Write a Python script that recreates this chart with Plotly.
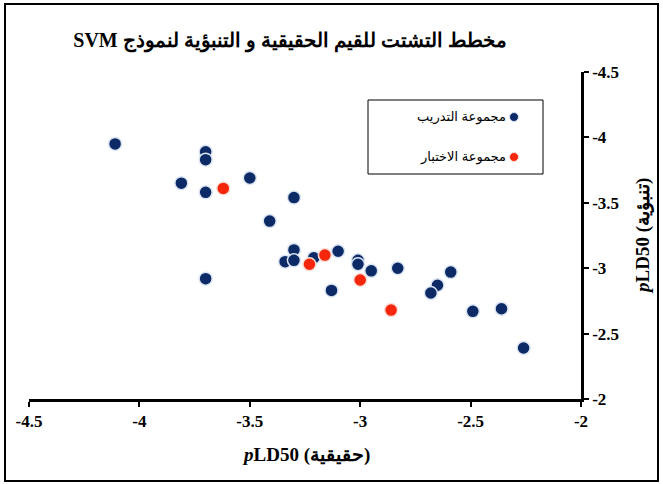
import plotly.graph_objects as go

# Training set (actual, predicted)
train_actual = [-4.11, -3.70, -3.70, -3.81, -3.70, -3.50, -3.30, -3.41, -3.30, -3.34,
                -3.30, -3.21, -3.10, -3.01, -3.01, -2.95, -2.83, -3.13, -3.70, -2.59,
                -2.65, -2.68, -2.49, -2.36, -2.26]
train_pred = [-3.95, -3.89, -3.83, -3.65, -3.58, -3.69, -3.54, -3.36, -3.14, -3.05,
              -3.06, -3.08, -3.13, -3.06, -3.03, -2.98, -3.00, -2.83, -2.92, -2.97,
              -2.87, -2.81, -2.67, -2.69, -2.39]

# Test set (actual, predicted)
test_actual = [-3.62, -3.23, -3.16, -3.00, -2.86]
test_pred = [-3.61, -3.03, -3.10, -2.91, -2.68]

x_ticks = [-4.5, -4, -3.5, -3, -2.5, -2]
y_ticks = [-4.5, -4, -3.5, -3, -2.5, -2]

title_text = "مخطط التشتت للقيم الحقيقية و التنبؤية لنموذج SVM"
x_title = "<i>p</i>LD50 (حقيقية)"
y_title = "<i>p</i>LD50 (تنبؤية)"
train_name = "مجموعة التدريب"
test_name = "مجموعة الاختبار"

blue = "#0b2a66"
red = "#f5260c"

fig = go.Figure()
fig.add_trace(go.Scatter(
    x=train_actual, y=train_pred, mode="markers", name=train_name,
    marker=dict(size=13, color=blue, line=dict(color="#dbe5f3", width=1.5)),
    hoverinfo="skip"))
fig.add_trace(go.Scatter(
    x=test_actual, y=test_pred, mode="markers", name=test_name,
    marker=dict(size=13, color=red, line=dict(color="#fbe0d8", width=1.5)),
    hoverinfo="skip"))

W, H = 663, 484
L, R, T, B = 29, 82, 72, 85
pw, ph = W - L - R, H - T - B

def px(xp):
    return (xp - L) / pw

def py(yp):
    return (H - B - yp) / ph

tickfont = dict(family="Liberation Serif", size=17, color="black", weight="bold")

fig.update_layout(
    width=W, height=H,
    margin=dict(l=L, r=R, t=T, b=B),
    paper_bgcolor="white", plot_bgcolor="white",
    showlegend=False,
    title=dict(text="\u202B" + title_text + "\u202C", x=290 / W, xref="container", xanchor="center",
               y=1 - 40 / H, yref="container", yanchor="middle",
               font=dict(family="Liberation Serif, DejaVu Serif", size=20, color="black", weight="bold")),
    xaxis=dict(range=[-4.5, -2], tickvals=x_ticks, ticktext=[f"{v:g}" for v in x_ticks],
               showgrid=False, zeroline=False, showline=True, linecolor="black", linewidth=2.5,
               ticks="outside", ticklen=5, tickwidth=2, tickcolor="black",
               tickfont=tickfont, mirror=False),
    yaxis=dict(range=[-2, -4.5], tickvals=y_ticks, ticktext=[f"{v:g}" for v in y_ticks],
               side="right", showgrid=False, zeroline=False, showline=True, linecolor="black",
               linewidth=2.5, ticks="outside", ticklen=5, tickwidth=2, tickcolor="black",
               tickfont=tickfont),
)

annfont = dict(family="Liberation Serif, DejaVu Serif", size=19, color="black", weight="bold")
fig.add_annotation(text=x_title, xref="paper", yref="paper", x=px(306), y=py(455),
                   xanchor="center", yanchor="middle", showarrow=False, font=annfont)
fig.add_annotation(text=y_title, xref="paper", yref="paper", x=px(643), y=py(236),
                   xanchor="center", yanchor="middle", textangle=-90, showarrow=False, font=annfont)

# legend box (manual, RTL style with marker on the right)
fig.add_shape(type="rect", xref="paper", yref="paper",
              x0=px(368), x1=px(543), y0=py(100), y1=py(174),
              line=dict(color="black", width=1), fillcolor="white")
legfont = dict(family="Liberation Sans, DejaVu Sans", size=13, color="black")
for name, col, lc, yy in [(train_name, blue, "#dbe5f3", 117), (test_name, red, "#fbe0d8", 157)]:
    fig.add_annotation(text=name, xref="paper", yref="paper", x=px(508), y=py(yy),
                       xanchor="right", yanchor="middle", showarrow=False, font=legfont)
    fig.add_shape(type="circle", xref="paper", yref="paper",
                  x0=px(514 - 4.5), x1=px(514 + 4.5), y0=py(yy + 4.5), y1=py(yy - 4.5),
                  fillcolor=col, line=dict(color=lc, width=1))

# outer border
fig.add_shape(type="rect", xref="paper", yref="paper",
              x0=px(5), x1=px(658), y0=py(481), y1=py(4),
              line=dict(color="black", width=2), layer="below")

fig.write_html("out.html", config={"displayModeBar": False},
               post_script="document.body.style.margin='0';")
